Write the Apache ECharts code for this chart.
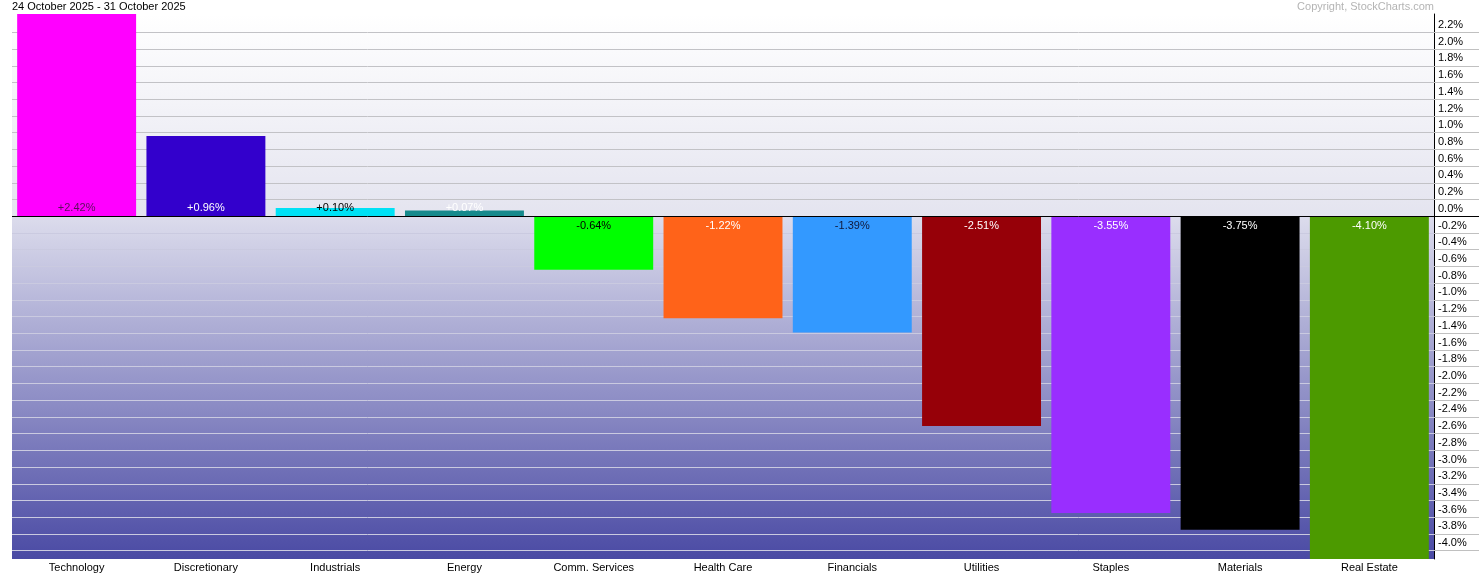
<!DOCTYPE html>
<html>
<head>
<meta charset="utf-8">
<script src="https://cdn.jsdelivr.net/npm/echarts@6.0.0/dist/echarts.min.js"></script>
<style>
html,body{margin:0;padding:0;background:#ffffff;}
#chart{width:1479px;height:575px;}
</style>
</head>
<body>
<div id="chart"></div>
<script>
const titleText = '24 October 2025 - 31 October 2025';
const copyrightText = 'Copyright, StockCharts.com';
const categories = ['Technology','Discretionary','Industrials','Energy','Comm. Services','Health Care','Financials','Utilities','Staples','Materials','Real Estate'];
const values = [2.42, 0.96, 0.10, 0.07, -0.64, -1.22, -1.39, -2.51, -3.55, -3.75, -4.10];
const barColors = ['#ff00ff','#3300cc','#00e1f5','#168a8c','#00ff00','#ff6319','#3399ff','#960008','#992eff','#000000','#4c9a00'];
const labelColors = ['#5a105a','#ffffff','#000000','#ffffff','#000000','#ffffff','#10183a','#ffffff','#ffffff','#ffffff','#ffffff'];
const yTicks = [2.2,2.0,1.8,1.6,1.4,1.2,1.0,0.8,0.6,0.4,0.2,0.0,-0.2,-0.4,-0.6,-0.8,-1.0,-1.2,-1.4,-1.6,-1.8,-2.0,-2.2,-2.4,-2.6,-2.8,-3.0,-3.2,-3.4,-3.6,-3.8,-4.0];
const yMin = -4.10;
const yMax = 2.42;

const FONT = '"Liberation Sans", Arial, sans-serif';
const chart = echarts.init(document.getElementById('chart'), null, {renderer:'canvas'});

const zeroFrac = yMax / (yMax - yMin);

const gridLinesMain = yTicks.filter(v => v !== 0).map(v => ({
  yAxis: v,
  lineStyle: {color: v > 0 ? '#c2c2c6' : '#cacae0', width: 1, type: 'solid'}
}));
const gridLinesSide = yTicks.map(v => ({
  yAxis: v,
  lineStyle: {color: v === 0 ? '#000000' : '#c0c0c0', width: 1, type: 'solid'},
  label: {
    show: true,
    position: 'insideStartTop',
    formatter: v.toFixed(1) + '%',
    color: '#000000',
    fontSize: 11,
    fontFamily: FONT,
    distance: [4, 2]
  }
}));

const option = {
  animation: false,
  backgroundColor: '#ffffff',
  textStyle: {fontFamily: FONT},
  title: [
    {text: titleText, left: 12, top: 1, padding: 0, textStyle: {fontSize: 11, fontWeight: 'normal', color: '#000', fontFamily: FONT}},
    {text: copyrightText, right: 45, top: 1, padding: 0, textStyle: {fontSize: 11, fontWeight: 'normal', color: '#b4b4b4', fontFamily: FONT}}
  ],
  grid: [
    {
      left: 12, right: 45, top: 14, bottom: 16,
      show: true, borderWidth: 0,
      backgroundColor: {
        type: 'linear', x: 0, y: 0, x2: 0, y2: 1,
        colorStops: [
          {offset: 0, color: '#ffffff'},
          {offset: zeroFrac, color: '#e4e4ef'},
          {offset: zeroFrac, color: '#dcdcec'},
          {offset: 1, color: '#4a4aa4'}
        ]
      }
    },
    {left: 1434, right: 0, top: 14, bottom: 16}
  ],
  xAxis: [
    {
      type: 'category', gridIndex: 0, data: categories,
      axisLine: {show: false}, axisTick: {show: false},
      axisLabel: {color: '#000', fontSize: 11, fontFamily: FONT, margin: 3, interval: 0}
    },
    {type: 'value', gridIndex: 1, min: 0, max: 1, show: false}
  ],
  yAxis: [
    {
      type: 'value', gridIndex: 0, position: 'right', min: yMin, max: yMax,
      axisLine: {show: true, lineStyle: {color: '#000', width: 1}},
      axisTick: {show: false}, axisLabel: {show: false}, splitLine: {show: false}
    },
    {type: 'value', gridIndex: 1, min: yMin, max: yMax, show: false}
  ],
  series: [
    {
      type: 'line', xAxisIndex: 0, yAxisIndex: 0, data: [], z: 1, silent: true,
      markLine: {z: 1, silent: true, symbol: ['none','none'], label: {show: false}, animation: false, data: gridLinesMain}
    },
    {
      type: 'bar', xAxisIndex: 0, yAxisIndex: 0, z: 3,
      barCategoryGap: '8%',
      data: values.map((v, i) => ({
        value: v,
        itemStyle: {color: barColors[i]},
        label: {
          show: true,
          position: v >= 0 ? 'insideBottom' : 'insideTop',
          distance: v >= 0 ? 3 : 4,
          formatter: (v > 0 ? '+' : '') + v.toFixed(2) + '%',
          color: labelColors[i],
          fontSize: 11,
          fontFamily: FONT
        }
      }))
    },
    {
      type: 'line', xAxisIndex: 0, yAxisIndex: 0, data: [], z: 10, silent: true,
      markLine: {z: 10, silent: true, symbol: ['none','none'], label: {show: false}, animation: false,
        data: [{yAxis: 0, lineStyle: {color: '#000000', width: 1, type: 'solid'}}]}
    },
    {
      type: 'line', xAxisIndex: 1, yAxisIndex: 1, data: [], z: 1, silent: true,
      markLine: {z: 1, silent: true, symbol: ['none','none'], animation: false, data: gridLinesSide}
    }
  ]
};
chart.setOption(option);
</script>
</body>
</html>
